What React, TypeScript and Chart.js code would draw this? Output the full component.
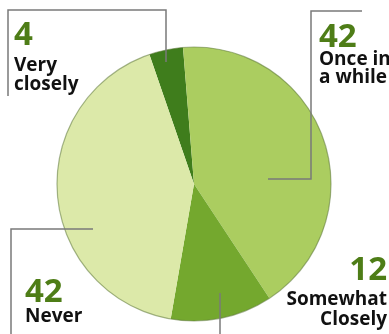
import React, { useEffect, useRef } from "react";
import { Chart, registerables } from "chart.js";

Chart.register(...registerables);

const categories = ["Very closely", "Once in a while", "Somewhat Closely", "Never"];
const values = [4, 42, 12, 42];
const colors = ["#3f7d1c", "#abcd60", "#74a82e", "#dce9a9"];
const numberLabels = ["4", "42", "12", "42"];
const textLabels = [["Very", "closely"], ["Once in", "a while"], ["Somewhat", "Closely"], ["Never"]];

const labelPlugin = {
  id: "labels",
  afterDraw(chart: any) {
    const ctx = chart.ctx as CanvasRenderingContext2D;
    const meta = chart.getDatasetMeta(0);
    const arc0 = meta.data[0] as any;
    const cx = arc0.x, cy = arc0.y, R = arc0.outerRadius;
    ctx.save();
    ctx.beginPath();
    ctx.arc(cx, cy, R, 0, Math.PI * 2);
    ctx.strokeStyle = "rgba(95,120,60,0.55)";
    ctx.lineWidth = 1.2;
    ctx.stroke();

    ctx.strokeStyle = "#7a7a7a";
    ctx.lineWidth = 1.5;
    const lines: number[][][] = [
      [[8, 96], [8, 10], [166, 10], [166, 62]],
      [[362, 11], [311, 11], [311, 179], [268, 179]],
      [[11, 334], [11, 229], [93, 229]],
      [[220, 293], [220, 334]],
    ];
    lines.forEach((pts) => {
      ctx.beginPath();
      pts.forEach((p, i) => (i ? ctx.lineTo(p[0], p[1]) : ctx.moveTo(p[0], p[1])));
      ctx.stroke();
    });

    const numFont = "bold 33px 'Open Sans'";
    const txtFont = "bold 19px 'Open Sans'";
    const numColor = "#4e7d17";
    const txtColor = "#111";
    ctx.textBaseline = "alphabetic";
    const place = [
      { x: 14, align: "left", nb: 45, tb: [71, 90] },
      { x: 319, align: "left", nb: 47, tb: [65, 83] },
      { x: 387, align: "right", nb: 280, tb: [305, 325] },
      { x: 25, align: "left", nb: 302, tb: [322] },
    ];
    place.forEach((p, i) => {
      ctx.textAlign = p.align as CanvasTextAlign;
      ctx.font = numFont;
      ctx.fillStyle = numColor;
      ctx.fillText(numberLabels[i], p.x, p.nb);
      ctx.font = txtFont;
      ctx.fillStyle = txtColor;
      textLabels[i].forEach((t, j) => ctx.fillText(t, p.x, p.tb[j]));
    });
    ctx.restore();
  },
};

export default function App() {
  const ref = useRef<HTMLCanvasElement>(null);
  useEffect(() => {
    document.body.style.margin = "0";
    const chart = new Chart(ref.current!, {
      type: "pie",
      data: {
        labels: categories,
        datasets: [{ data: values, backgroundColor: colors, borderWidth: 0 }],
      },
      options: {
        animation: false,
        responsive: false,
        rotation: -19,
        layout: { padding: { left: 57, right: 58, top: 47, bottom: 13 } },
        plugins: { legend: { display: false }, tooltip: { enabled: false } },
      },
      plugins: [labelPlugin],
    });
    return () => chart.destroy();
  }, []);
  return (
    <div style={{ position: "fixed", left: 0, top: 0, width: 389, height: 334, background: "#fff" }}>
      <canvas ref={ref} width={389} height={334} style={{ width: 389, height: 334 }} />
    </div>
  );
}
